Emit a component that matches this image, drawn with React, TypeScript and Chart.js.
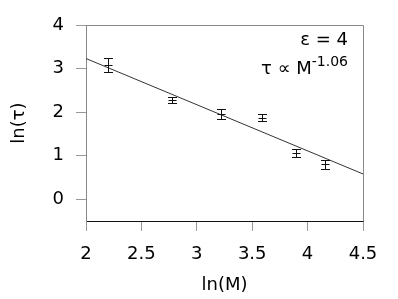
import React, { useEffect, useRef } from 'react';
import { Chart, registerables } from 'chart.js';
Chart.register(...registerables);

const LN_M = [2.197, 2.773, 3.219, 3.584, 3.892, 4.159];
const LN_TAU = [3.08, 2.27, 1.95, 1.87, 1.07, 0.8];
const ERR = [0.17, 0.07, 0.11, 0.08, 0.09, 0.1];
const FIT_X = [2, 4.5];
const FIT_Y = [3.23, 0.58];
const X_TICKS = [2, 2.5, 3, 3.5, 4, 4.5];
const Y_TICKS = [0, 1, 2, 3, 4];
const X_TITLE = 'ln(M)';
const Y_TITLE = 'ln(τ)';
const LABEL_EPS = 'ε = 4';
const LABEL_LAW = 'τ ∝ M';
const LABEL_EXP = '-1.06';

const FONT = 'DejaVu Sans';

export default function App() {
  const ref = useRef<HTMLCanvasElement | null>(null);
  useEffect(() => {
    document.body.style.margin = '0';
    const canvas = ref.current!;
    const errorBars = {
      id: 'errorBars',
      afterDatasetsDraw(chart: any) {
        const { ctx, scales } = chart;
        const xs = scales.x, ys = scales.y;
        ctx.save();
        ctx.strokeStyle = '#111';
        ctx.lineWidth = 1;
        for (let i = 0; i < LN_M.length; i++) {
          const x = Math.round(xs.getPixelForValue(LN_M[i])) + 0.5;
          const yt = Math.round(ys.getPixelForValue(LN_TAU[i] + ERR[i])) + 0.5;
          const yb = Math.round(ys.getPixelForValue(LN_TAU[i] - ERR[i])) + 0.5;
          const yc = Math.round(ys.getPixelForValue(LN_TAU[i])) + 0.5;
          ctx.beginPath();
          ctx.moveTo(x, yt); ctx.lineTo(x, yb);
          ctx.moveTo(x - 4.5, yt); ctx.lineTo(x + 4.5, yt);
          ctx.moveTo(x - 4.5, yb); ctx.lineTo(x + 4.5, yb);
          ctx.moveTo(x - 4, yc); ctx.lineTo(x + 4, yc);
          ctx.stroke();
        }
        ctx.restore();
      },
    };
    const frame = {
      id: 'frame',
      afterDraw(chart: any) {
        const { ctx, chartArea } = chart;
        ctx.save();
        ctx.strokeStyle = '#888';
        ctx.lineWidth = 1;
        ctx.beginPath();
        const l = Math.round(chartArea.left) + 0.5;
        const r = Math.round(chartArea.right) + 0.5;
        const t = Math.round(chartArea.top) + 0.5;
        const b = Math.round(chartArea.bottom) + 0.5;
        ctx.moveTo(l, t); ctx.lineTo(r, t); ctx.lineTo(r, b);
        ctx.stroke();
        // annotations
        ctx.fillStyle = '#000';
        ctx.textAlign = 'right';
        ctx.textBaseline = 'alphabetic';
        const xr = 348;
        ctx.font = `18px "${FONT}"`;
        ctx.fillText(LABEL_EPS, xr, 45);
        ctx.font = `14px "${FONT}"`;
        const ws = ctx.measureText(LABEL_EXP).width;
        ctx.fillText(LABEL_EXP, xr, 66);
        ctx.font = `18px "${FONT}"`;
        ctx.fillText(LABEL_LAW, xr - ws, 74);
        ctx.restore();
      },
    };
    const chart = new Chart(canvas, {
      type: 'scatter',
      data: {
        datasets: [
          {
            type: 'scatter',
            data: LN_M.map((x, i) => ({ x, y: LN_TAU[i] })),
            pointRadius: 0,
            borderColor: '#111',
            backgroundColor: '#111',
            borderWidth: 1,
          },
          {
            type: 'line',
            data: FIT_X.map((x, i) => ({ x, y: FIT_Y[i] })),
            borderColor: '#333',
            borderWidth: 1,
            pointRadius: 0,
            fill: false,
          } as any,
        ],
      },
      options: {
        animation: false,
        responsive: false,
        layout: { padding: { top: 25, right: 35, left: 0, bottom: 0 } },
        plugins: { legend: { display: false }, tooltip: { enabled: false } },
        scales: {
          x: {
            type: 'linear',
            min: 2,
            max: 4.5,
            afterBuildTicks: (s: any) => { s.ticks = X_TICKS.map((v) => ({ value: v })); },
            afterFit: (s: any) => { s.height = 78; },
            ticks: { color: '#000', font: { family: FONT, size: 18 }, padding: 13, maxRotation: 0, callback: (v: any) => String(v) },
            grid: { drawOnChartArea: false, drawTicks: true, tickLength: 10, tickColor: '#999' },
            border: { color: '#111', width: 1 },
            title: { display: true, text: X_TITLE, color: '#000', font: { family: FONT, size: 18 }, padding: { top: 0, bottom: 3 } },
          },
          y: {
            type: 'linear',
            min: -0.5,
            max: 4,
            afterBuildTicks: (s: any) => { s.ticks = Y_TICKS.map((v) => ({ value: v })); },
            afterFit: (s: any) => { s.width = 86; },
            ticks: { color: '#000', font: { family: FONT, size: 18 }, padding: 12, callback: (v: any) => String(v) },
            grid: { drawOnChartArea: false, drawTicks: true, tickLength: 10, tickColor: '#999' },
            border: { color: '#888', width: 1 },
            title: { display: true, text: Y_TITLE, color: '#000', font: { family: FONT, size: 18 }, padding: { top: 9, bottom: 0 } },
          },
        },
      },
      plugins: [errorBars, frame],
    } as any);
    return () => chart.destroy();
  }, []);
  return (
    <div style={{ width: 398, height: 299 }}>
      <canvas ref={ref} width={398} height={299} />
    </div>
  );
}
